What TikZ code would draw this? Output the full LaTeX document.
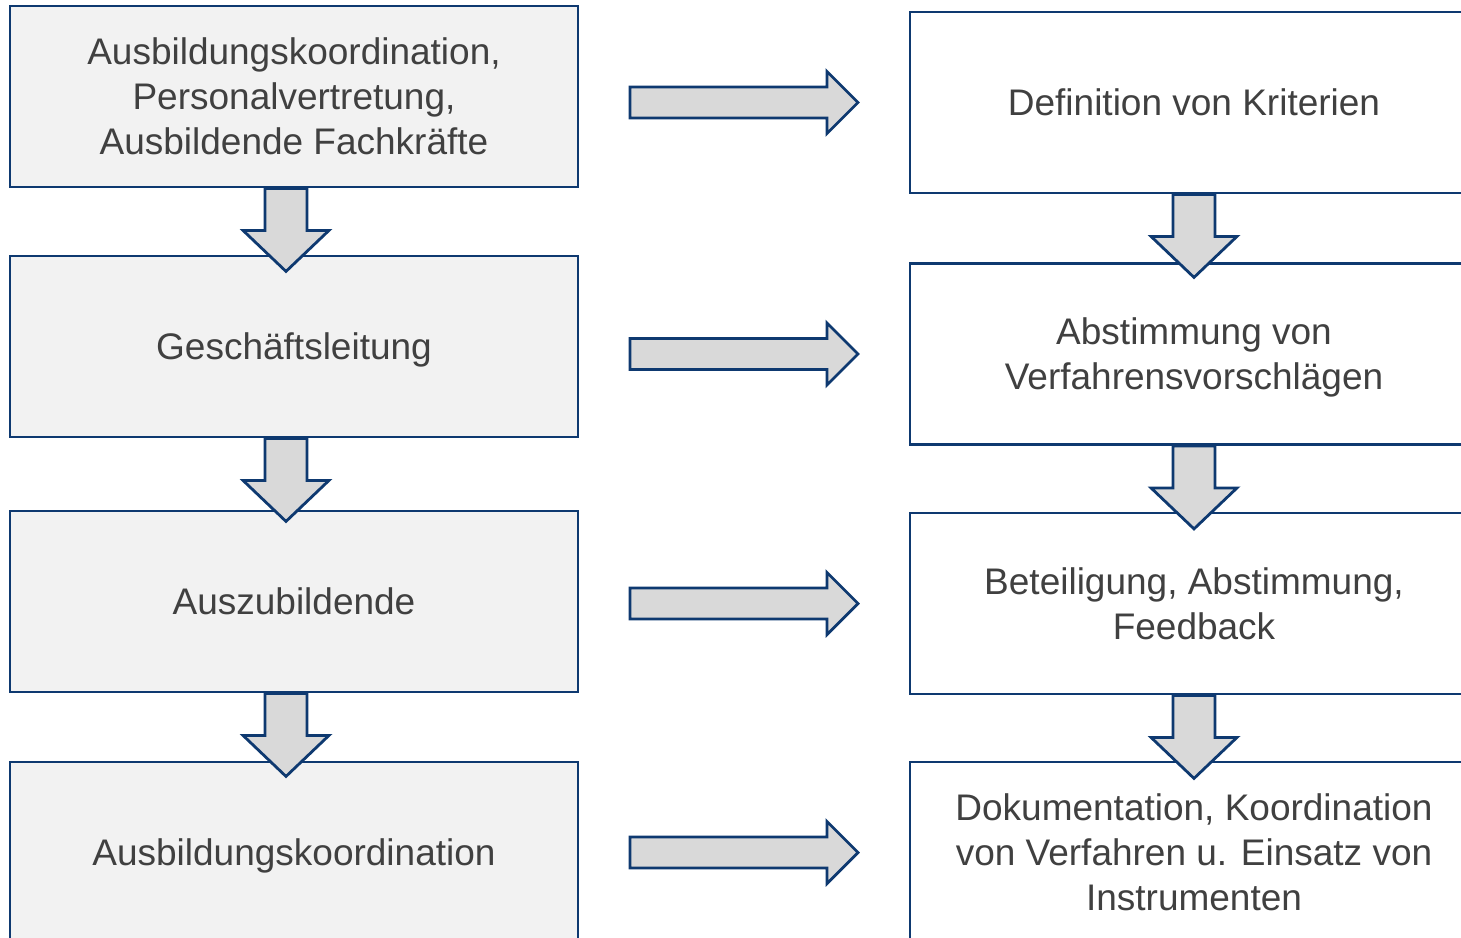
\documentclass[tikz,border=0pt]{standalone}
\usepackage{fontspec}
\setmainfont{Liberation Sans}
\usetikzlibrary{positioning,calc}
\definecolor{boxblue}{RGB}{14,57,112}
\definecolor{boxgray}{RGB}{242,242,242}
\definecolor{arrowgray}{RGB}{217,217,217}
\definecolor{textgray}{RGB}{64,64,64}

\begin{document}
\begin{tikzpicture}[x=0.5pt,y=-0.5pt,
   box/.style={draw=boxblue,line width=1.4pt,minimum width=284pt,minimum height=90.5pt,
      inner sep=0pt,text depth=0pt,align=center,text=textgray,font=\fontsize{18.5}{22.5}\selectfont},
   leftbox/.style={box,fill=boxgray},
   rightbox/.style={box,fill=white},
   blockarrow/.style={draw=boxblue,line width=1.4pt,fill=arrowgray,line join=miter},
   down arrow/.pic={\draw[blockarrow] (-21,0) -- (-21,42) -- (-43,42) -- (0,83) -- (43,42) -- (21,42) -- (21,0) -- cycle;},
   right arrow/.pic={\draw[blockarrow] (-114,-15.5) -- (83,-15.5) -- (83,-31) -- (114,0) -- (83,31) -- (83,15.5) -- (-114,15.5) -- cycle;}]
   \useasboundingbox (0,0) rectangle (1461,937);
   \clip (0,0) rectangle (1461,937);
   \node[leftbox] (l1) at (294,96.5) {Ausbildungskoordination,\\Personalvertretung,\\Ausbildende Fachkräfte};
   \node[leftbox] (l2) at (294,346.5) {Geschäftsleitung};
   \node[leftbox] (l3) at (294,601.5) {Auszubildende};
   \node[leftbox] (l4) at (294,852.5) {Ausbildungskoordination};
   \node[rightbox] (r1) at (1194,102.5) {Definition von Kriterien};
   \node[rightbox] (r2) at (1194,354) {Abstimmung von\\Verfahrensvorschlägen};
   \node[rightbox] (r3) at (1194,603.5) {Beteiligung, Abstimmung,\\Feedback};
   \node[rightbox] (r4) at (1194,852.5) {Dokumentation, Koordination\\von Verfahren u. Einsatz von\\Instrumenten};
   \foreach \i in {1,2,3} {
      \pic at ($(l\i.south)+(-8,0)$) {down arrow};
      \pic at (r\i.south) {down arrow};
   }
   \foreach \i in {1,...,4}
      \pic at ($(l\i.east |- r\i.west)!0.5!(r\i.west)$) {right arrow};
\end{tikzpicture}
\end{document}
